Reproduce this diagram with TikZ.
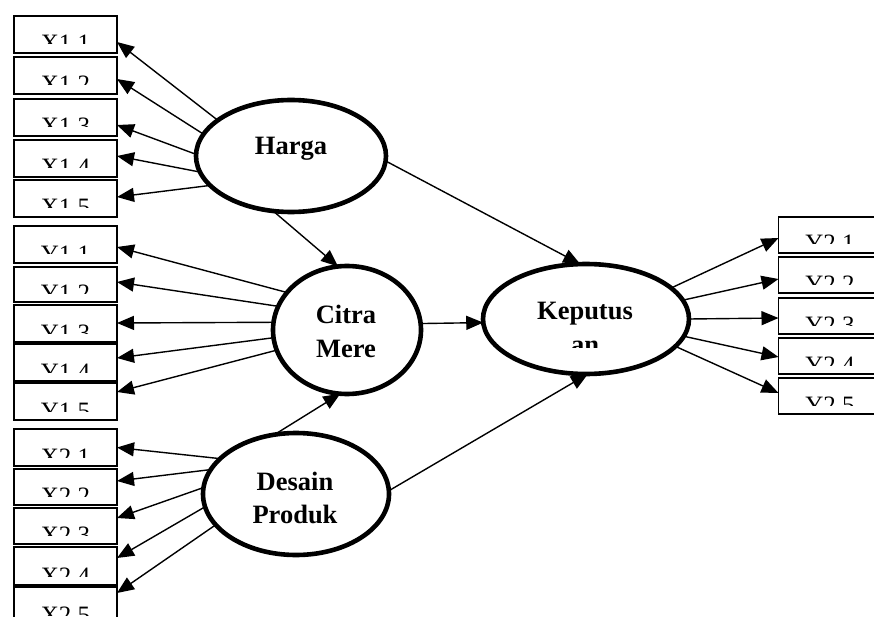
\documentclass[tikz,border=0pt]{standalone}
\usepackage{fontspec}
\setmainfont{Liberation Serif}
\usetikzlibrary{arrows.meta,shapes.geometric}
\newcommand\indbox[5]{%
  \node[ind, minimum height={#4-#3}] (#1) at (#2,{(#3+#4)/2}) {};
  \begin{scope}
    \clip ({#2-50},{#3+2}) rectangle ({#2+50},{#4-9});
    \node[indtxt] (#1t) at (#2,{#4-1}) {#5};
  \end{scope}}
\begin{document}
\begin{tikzpicture}[x=1pt,y=-1pt,
  ind/.style={draw, line width=1.7pt, minimum width=103pt, inner sep=0pt, outer sep=0pt},
  indtxt/.style={anchor=base, inner sep=0pt, font=\fontsize{25}{30}\selectfont},
  lat/.style={draw, ellipse, line width=4.6pt, inner sep=0pt, outer sep=0pt},
  lbl/.style={anchor=base, inner sep=0pt, font=\bfseries\fontsize{26.5}{30}\selectfont},
  con/.style={line width=1.4pt, -{Triangle[length=17pt,width=14pt]}}]
\useasboundingbox (0,0) rectangle (874,617);
\clip (0,0) rectangle (874,617);

% indicator boxes, left group 1
\indbox{a1}{65.5}{16}{53}{X1.1}
\indbox{a2}{65.5}{57}{94}{X1.2}
\indbox{a3}{65.5}{99}{136}{X1.3}
\indbox{a4}{65.5}{140}{177}{X1.4}
\indbox{a5}{65.5}{180}{217}{X1.5}
% left group 2
\indbox{b1}{65.5}{226}{263}{Y1.1}
\indbox{b2}{65.5}{267}{302}{Y1.2}
\indbox{b3}{65.5}{305}{342}{Y1.3}
\indbox{b4}{65.5}{344}{381}{Y1.4}
\indbox{b5}{65.5}{383}{420}{Y1.5}
% left group 3
\indbox{c1}{65.5}{429}{466}{X2.1}
\indbox{c2}{65.5}{469}{505}{X2.2}
\indbox{c3}{65.5}{508}{544}{X2.3}
\indbox{c4}{65.5}{547}{585}{X2.4}
\indbox{c5}{65.5}{587}{624}{X2.5}
% right group
\indbox{d1}{830}{217}{253}{Y2.1}
\indbox{d2}{830}{257}{293}{Y2.2}
\indbox{d3}{830}{298}{334}{Y2.3}
\indbox{d4}{830}{338}{374}{Y2.4}
\indbox{d5}{830}{378}{414}{Y2.5}

% latent variables
\node[lat, minimum width=190pt, minimum height=112pt] (harga) at (291,156) {};
\node[lat, minimum width=148pt, minimum height=128pt] (citra) at (347,330) {};
\node[lat, minimum width=206pt, minimum height=110pt] (kep) at (586,319) {};
\node[lat, minimum width=186pt, minimum height=122pt] (desain) at (296,494) {};

\node[lbl] (hargat) at (291,155) {Harga};
\node[lbl] (citrat1) at (346,323) {Citra};
\node[lbl] (citrat2) at (346,357) {Mere};
\node[lbl] (kept1) at (585,319) {Keputus};
\begin{scope}
  \clip (500,330) rectangle (680,347);
  \node[lbl] (kept2) at (585,353) {an};
\end{scope}
\node[lbl] (desaint1) at (295,490) {Desain};
\node[lbl] (desaint2) at (295,523) {Produk};

% loadings Harga
\draw[con] (harga.154) -- ([yshift=-7.5pt]a1.east);
\draw[con] (harga.166.7) -- ([yshift=-3.5pt]a2.east);
\draw[con] (harga.179) -- ([yshift=-7.5pt]a3.east);
\draw[con] (harga.190) -- ([yshift=2.5pt]a4.east);
\draw[con] (harga.200.4) -- ([yshift=1.5pt]a5.east);
% loadings Citra
\draw[con] (citra.148) -- ([yshift=-2.5pt]b1.east);
\draw[con] (citra.161) -- ([yshift=2.5pt]b2.east);
\draw[con] (citra.174.6) -- ([yshift=0.5pt]b3.east);
\draw[con] (citra.186) -- ([yshift=4.5pt]b4.east);
\draw[con] (citra.196) -- ([yshift=9.5pt]b5.east);
% loadings Desain
\draw[con] (desain.155.4) -- (c1.east);
\draw[con] (desain.164) -- ([yshift=6pt]c2.east);
\draw[con] (desain.176) -- ([yshift=8pt]c3.east);
\draw[con] (desain.188.5) -- ([yshift=8pt]c4.east);
\draw[con] (desain.201.5) -- ([yshift=12.5pt]c5.east);
% loadings Keputusan
\draw[con] (kep.20) -- ([yshift=-3pt]d1.west);
\draw[con] (kep.11.3) -- ([yshift=-4pt]d2.west);
\draw[con] (kep.0.5) -- ([yshift=-2pt]d3.west);
\draw[con] (kep.-10) -- ([yshift=-1pt]d4.west);
\draw[con] (kep.-17.5) -- ([yshift=3pt]d5.west);

% structural paths
\draw[con] (harga.-3) -- (kep.96);
\draw[con] (harga.-108) -- (citra.98);
\draw[con] (citra.5) -- (kep.182);
\draw[con] (desain.110) -- (citra.264);
\draw[con] (desain.2.4) -- (kep.272);
\end{tikzpicture}
\end{document}
